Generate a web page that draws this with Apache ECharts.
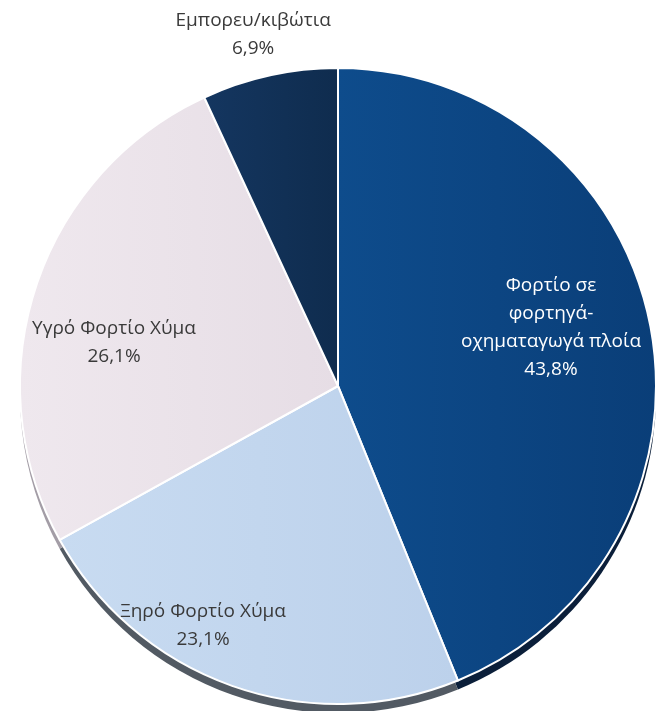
<!DOCTYPE html>
<html>
<head>
<meta charset="utf-8">
<script src="https://cdn.jsdelivr.net/npm/echarts@6/dist/echarts.min.js"></script>
<style>
  html, body { margin: 0; padding: 0; background: #fff; }
  #chart { width: 659px; height: 711px; }
</style>
</head>
<body>
<div id="chart"></div>
<script>
// δεδομένα
const categories = ['Φορτίο σε\nφορτηγά-\nοχηματαγωγά πλοία', 'Ξηρό Φορτίο Χύμα', 'Υγρό Φορτίο Χύμα', 'Εμπορευ/κιβώτια']
const shares = [43.8, 23.1, 26.1, 6.9]
const percentLabels = ['43,8%', '23,1%', '26,1%', '6,9%']

// χρώματα ανά τομέα (αρχή/τέλος διαβάθμισης) και σκιά
const sliceColors = [
  ['#0e4c8c', '#0a3e78'],
  ['#c8dbf1', '#bcd1eb'],
  ['#efe8ee', '#e6dde5'],
  ['#143660', '#0f2c4e'],
]
const shadowColors = ['#0b1f3a', '#525a63', '#a39da6', '#0b1f3a']
const labelColors = ['#ffffff', '#3a3a3a', '#3a3a3a', '#3a3a3a']
const labelOffsets = [[54, -27], [-81, 87], [-70, 7], [-50, -193]]

const CX = 338
const CY = 386
const R = 318

const chart = echarts.init(document.getElementById('chart'))

chart.setOption({
  animation: false,
  series: [
    // "βάθος" κάτω από την πίτα
    {
      type: 'pie',
      silent: true,
      center: [CX, CY + 9],
      radius: [0, R],
      startAngle: 90,
      clockwise: true,
      label: { show: false },
      labelLine: { show: false },
      itemStyle: { borderWidth: 0 },
      data: shares.map((v, i) => ({
        value: v,
        name: categories[i],
        itemStyle: { color: shadowColors[i] },
      })),
    },
    {
      type: 'pie',
      center: [CX, CY],
      radius: [0, R],
      startAngle: 90,
      clockwise: true,
      avoidLabelOverlap: false,
      itemStyle: {
        borderColor: '#ffffff',
        borderWidth: 2,
      },
      label: {
        show: true,
        position: 'inside',
        fontFamily: 'Open Sans',
        fontSize: 19,
        lineHeight: 28,
        align: 'center',
      },
      labelLine: { show: false },
      emphasis: { disabled: true },
      data: shares.map((v, i) => ({
        value: v,
        name: categories[i],
        itemStyle: {
          color: new echarts.graphic.LinearGradient(0, 0, 1, 0, [
            { offset: 0, color: sliceColors[i][0] },
            { offset: 1, color: sliceColors[i][1] },
          ]),
        },
        label: {
          color: labelColors[i],
          offset: labelOffsets[i],
          formatter: categories[i] + '\n' + percentLabels[i],
        },
      })),
    },
  ],
})
</script>
</body>
</html>
